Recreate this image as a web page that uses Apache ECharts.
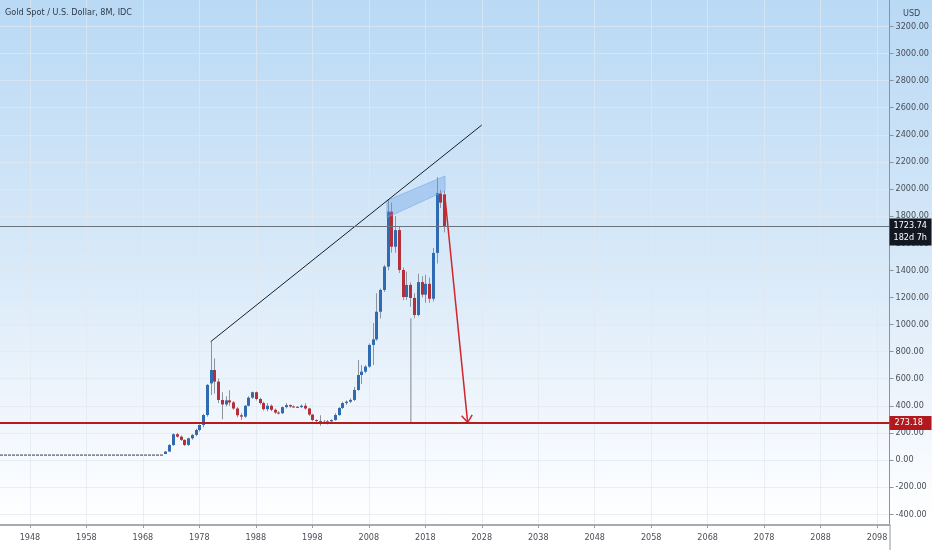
<!DOCTYPE html>
<html>
<head>
<meta charset="utf-8">
<title>Gold Spot / U.S. Dollar, 8M</title>
<script src="https://cdn.jsdelivr.net/npm/echarts@6/dist/echarts.min.js"></script>
<style>
  html, body { margin: 0; padding: 0; background: #fff; }
  #main { width: 932px; height: 550px; }
</style>
</head>
<body>
<div id="main"></div>
<script>
// 8-month candles (start month of each bar)
var candleDates = ['1972-01','1972-09','1973-05','1974-01','1974-09','1975-05','1976-01','1976-09','1977-05',
  '1978-01','1978-09','1979-05','1980-01','1980-09','1981-05','1982-01','1982-09','1983-05','1984-01','1984-09',
  '1985-05','1986-01','1986-09','1987-05','1988-01','1988-09','1989-05','1990-01','1990-09','1991-05','1992-01',
  '1992-09','1993-05','1994-01','1994-09','1995-05','1996-01','1996-09','1997-05','1998-01','1998-09','1999-05',
  '2000-01','2000-09','2001-05','2002-01','2002-09','2003-05','2004-01','2004-09','2005-05','2006-01','2006-09',
  '2007-05','2008-01','2008-09','2009-05','2010-01','2010-09','2011-05','2012-01','2012-09','2013-05','2014-01',
  '2014-09','2015-05','2016-01','2016-09','2017-05','2018-01','2018-09','2019-05','2020-01','2020-09','2021-05'];
var opens  = [44, 62, 110, 190, 172, 148, 111, 160, 185, 221, 258, 332, 565, 664, 578, 443, 410, 440, 425, 380,
  330, 320, 400, 460, 500, 450, 420, 375, 400, 370, 350, 345, 390, 405, 395, 392, 390, 400, 380, 335, 295, 288,
  282, 275, 285, 295, 332, 384, 420, 430, 443, 517, 627, 652, 689, 849, 890, 1094, 1255, 1427, 1833, 1574, 1697,
  1402, 1203, 1292, 1196, 1070, 1313, 1220, 1300, 1190, 1528, 1967, 1960];
var closes = [62, 110, 190, 172, 148, 111, 160, 185, 221, 258, 332, 554, 664, 578, 443, 410, 440, 425, 380, 330,
  320, 400, 460, 500, 450, 420, 375, 400, 370, 350, 345, 390, 405, 395, 392, 390, 400, 380, 335, 295, 288, 282,
  275, 285, 295, 332, 384, 420, 430, 443, 517, 627, 652, 689, 849, 890, 1094, 1255, 1427, 1833, 1574, 1697, 1402,
  1203, 1292, 1196, 1070, 1313, 1220, 1300, 1190, 1528, 1970, 1900, 1723.74];
var lows   = [43, 60, 105, 165, 140, 103, 104, 150, 175, 210, 240, 320, 480, 490, 420, 300, 395, 400, 370, 315,
  295, 310, 395, 450, 440, 410, 365, 360, 360, 340, 335, 340, 380, 385, 385, 383, 383, 370, 325, 285, 275, 252,
  265, 262, 275, 290, 325, 375, 405, 420, 435, 510, 560, 640, 680, 700, 880, 1045, 1240, 1400, 1530, 1530, 1380,
  1180, 1180, 1130, 1046, 1060, 1200, 1160, 1160, 1170, 1450, 1860, 1680];
var highs  = [66, 118, 197, 200, 180, 152, 165, 190, 230, 262, 340, 560, 873, 750, 600, 500, 470, 515, 435, 390,
  345, 405, 470, 505, 505, 460, 430, 420, 410, 380, 360, 395, 420, 410, 402, 398, 410, 418, 385, 340, 300, 330,
  295, 295, 300, 345, 390, 430, 440, 455, 540, 738, 700, 700, 860, 1010, 1230, 1265, 1440, 1920, 1900, 1800, 1720,
  1420, 1390, 1310, 1230, 1375, 1357, 1366, 1346, 1565, 2088, 1995, 1985];

// fixed-price era, drawn as flat dashes
var flatLine = [[1942.7, 36], [1971.6, 36]];

// drawings
var trendLine = [[1980.0, 873], [2028.0, 2472]];
var dropLine  = [[2015.45, 1046], [2015.45, 273.18]];
var arrowLine = [2021.45, 1956, 2025.5, 276];
var channel   = [2011.2, 1915, 2021.5, 2096, 2021.5, 1985, 2011.2, 1790];

var lastPrice = 1723.74, lastCountdown = '182d 7h';
var supportLevel = 273.18;

var xTicks = [1948, 1958, 1968, 1978, 1988, 1998, 2008, 2018, 2028, 2038, 2048, 2058, 2068, 2078, 2088, 2098];
var yTicks = [-400, -200, 0, 200, 400, 600, 800, 1000, 1200, 1400, 1600, 1800, 2000, 2200, 2400, 2600, 2800, 3000, 3200];

var FONT = "'DejaVu Sans Condensed', 'DejaVu Sans', sans-serif";
var UP = '#2f6bb3', DOWN = '#b2303a', WICK = '#8c949d';

function toYear(s) {
    var p = s.split('-');
    return +p[0] + (p[1] - 1) / 12;
}

var candleData = candleDates.map(function (d, i) {
    return [toYear(d), opens[i], closes[i], lows[i], highs[i]];
});

var chart = echarts.init(document.getElementById('main'));

var option = {
    animation: false,
    backgroundColor: new echarts.graphic.LinearGradient(0, 0, 0, 1, [
        { offset: 0, color: '#b9d9f5' },
        { offset: 0.45, color: '#d6e8f8' },
        { offset: 0.8, color: '#f4f8fd' },
        { offset: 0.95, color: '#ffffff' },
        { offset: 1, color: '#ffffff' }
    ]),
    title: [{
        text: 'Gold Spot / U.S. Dollar, 8M, IDC',
        left: 5, top: 8, padding: 0,
        textStyle: { fontFamily: FONT, fontSize: 9, fontWeight: 'normal', color: '#2f3a4b' }
    }, {
        text: 'USD',
        left: 903, top: 9, padding: 0,
        textStyle: { fontFamily: FONT, fontSize: 9, fontWeight: 'normal', color: '#3b4657' }
    }],
    grid: { left: 0, right: 42, top: 0, bottom: 25 },
    xAxis: {
        type: 'value',
        min: 1942.7, max: 2100.2,
        axisLine: { onZero: false, lineStyle: { color: '#a7abb0', width: 2 } },
        axisTick: { show: true, length: 3, customValues: xTicks, lineStyle: { color: '#999' } },
        axisLabel: {
            customValues: xTicks, fontFamily: FONT, fontSize: 9, color: '#4a4f57', margin: 8,
            formatter: function (v) { return String(v); }
        },
        splitLine: { show: true, lineStyle: { color: 'rgba(225,232,240,0.7)', width: 1 } }
    },
    yAxis: {
        type: 'value',
        position: 'right',
        min: -480, max: 3395,
        axisLine: { show: true, lineStyle: { color: '#8d939b' } },
        axisTick: { show: true, length: 4, customValues: yTicks, lineStyle: { color: '#8d939b' } },
        axisLabel: {
            customValues: yTicks, fontFamily: FONT, fontSize: 9, color: '#4a4f57', margin: 6,
            formatter: function (v) { return v.toFixed(2); }
        },
        splitLine: { show: true, lineStyle: { color: 'rgba(225,232,240,0.7)', width: 1 } }
    },
    series: [{
        name: 'flat',
        type: 'line',
        data: flatLine,
        symbol: 'none',
        silent: true,
        lineStyle: { color: '#2c3a50', width: 1, type: [3, 1] },
        markLine: {
            silent: true,
            symbol: 'none',
            label: { show: false },
            data: [
                { yAxis: lastPrice, lineStyle: { color: '#6a727c', width: 1, type: 'solid' } },
                { yAxis: supportLevel, lineStyle: { color: '#b71c1c', width: 2, type: 'solid' } }
            ]
        }
    }, {
        name: 'candles',
        type: 'custom',
        data: candleData,
        encode: { x: 0, y: [1, 2, 3, 4] },
        renderItem: function (params, api) {
            var t = api.value(0), o = api.value(1), c = api.value(2), l = api.value(3), h = api.value(4);
            var pO = api.coord([t, o]), pC = api.coord([t, c]);
            var pL = api.coord([t, l]), pH = api.coord([t, h]);
            var x = Math.round(pO[0]);
            var top = Math.min(pO[1], pC[1]);
            var hgt = Math.max(1, Math.abs(pO[1] - pC[1]));
            var up = c >= o;
            return {
                type: 'group',
                children: [{
                    type: 'line',
                    shape: { x1: x + 0.5, y1: pH[1], x2: x + 0.5, y2: pL[1] },
                    style: { stroke: WICK, lineWidth: 1 }
                }, {
                    type: 'rect',
                    shape: { x: x - 1, y: top, width: 3, height: hgt },
                    style: { fill: up ? UP : DOWN }
                }]
            };
        }
    }, {
        name: 'channel',
        type: 'custom',
        data: [channel],
        renderItem: function (params, api) {
            var pts = [];
            for (var i = 0; i < 8; i += 2) {
                pts.push(api.coord([api.value(i), api.value(i + 1)]));
            }
            return {
                type: 'polygon',
                shape: { points: pts },
                style: { fill: 'rgba(86,150,228,0.32)', stroke: 'rgba(120,170,230,0.6)', lineWidth: 1 }
            };
        }
    }, {
        name: 'trend',
        type: 'line',
        data: trendLine,
        symbol: 'none',
        silent: true,
        lineStyle: { color: '#1b1f26', width: 1 }
    }, {
        name: 'drop',
        type: 'line',
        data: dropLine,
        symbol: 'none',
        silent: true,
        lineStyle: { color: '#7f8790', width: 1 }
    }, {
        name: 'arrow',
        type: 'custom',
        data: [arrowLine],
        renderItem: function (params, api) {
            var a = api.coord([api.value(0), api.value(1)]);
            var b = api.coord([api.value(2), api.value(3)]);
            var ang = Math.atan2(b[1] - a[1], b[0] - a[0]);
            var len = 9, spread = Math.PI / 5;
            var l1 = [b[0] - len * Math.cos(ang - spread), b[1] - len * Math.sin(ang - spread)];
            var l2 = [b[0] - len * Math.cos(ang + spread), b[1] - len * Math.sin(ang + spread)];
            var st = { stroke: '#d0262b', lineWidth: 1.5, fill: null };
            return {
                type: 'group',
                children: [
                    { type: 'line', shape: { x1: a[0], y1: a[1], x2: b[0], y2: b[1] }, style: st },
                    { type: 'polyline', shape: { points: [l1, b, l2] }, style: st }
                ]
            };
        }
    }]
};

chart.setOption(option);

// price tags on the right scale
var yLast = chart.convertToPixel({ yAxisIndex: 0 }, lastPrice);
var ySup = chart.convertToPixel({ yAxisIndex: 0 }, supportLevel);
var xEdge = chart.convertToPixel({ xAxisIndex: 0 }, 2100.2);
var yBottom = chart.convertToPixel({ yAxisIndex: 0 }, -480);
chart.setOption({
    graphic: [{
        // price scale border runs down through the time scale
        type: 'line', shape: { x1: xEdge + 0.5, y1: yBottom, x2: xEdge + 0.5, y2: 550 },
        style: { stroke: '#8d939b', lineWidth: 1 }, z: 100
    }, {
        type: 'rect', left: xEdge, top: yLast - 8, shape: { width: 42, height: 27 },
        style: { fill: '#131722' }, z: 100
    }, {
        type: 'text', left: xEdge + 4, top: yLast - 5,
        style: { text: lastPrice.toFixed(2), fill: '#fff', font: '9px ' + FONT }, z: 101
    }, {
        type: 'text', left: xEdge + 4, top: yLast + 7,
        style: { text: lastCountdown, fill: '#fff', font: '9px ' + FONT }, z: 101
    }, {
        type: 'rect', left: xEdge, top: ySup - 7, shape: { width: 42, height: 14 },
        style: { fill: '#b2191f' }, z: 100
    }, {
        type: 'text', left: xEdge + 5, top: ySup - 5,
        style: { text: supportLevel.toFixed(2), fill: '#fff', font: '9px ' + FONT }, z: 101
    }]
});
</script>
</body>
</html>
